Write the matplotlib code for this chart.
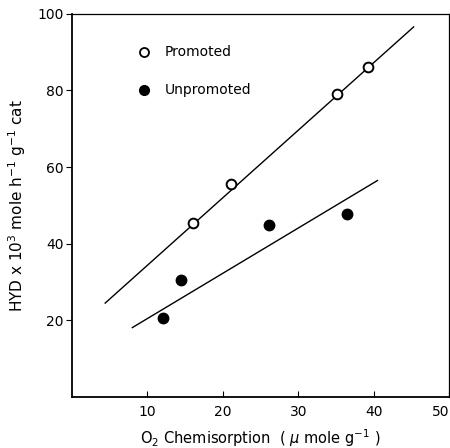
import matplotlib.pyplot as plt

promoted_x = [16.1, 21.1, 35.1, 39.3]
promoted_y = [45.3, 55.5, 79.2, 86.2]
unpromoted_x = [12.0, 14.5, 26.1, 36.4]
unpromoted_y = [20.5, 30.4, 44.8, 47.8]

# hand-drawn trend lines (end points)
promoted_fit_x = [4.4, 45.3]
promoted_fit_y = [24.5, 96.6]
unpromoted_fit_x = [8.0, 40.5]
unpromoted_fit_y = [18.1, 56.5]

x_ticks = [10, 20, 30, 40, 50]
y_ticks = [20, 40, 60, 80, 100]

fig = plt.figure(figsize=(4.5, 4.48), dpi=100)
ax = fig.add_axes([0.16, 0.114, 0.838, 0.855])

ax.plot(promoted_fit_x, promoted_fit_y, color="black", lw=1.0)
ax.plot(unpromoted_fit_x, unpromoted_fit_y, color="black", lw=1.0)
ax.plot(promoted_x, promoted_y, "o", ms=7, mfc="white", mec="black", mew=1.4)
ax.plot(unpromoted_x, unpromoted_y, "o", ms=7.5, mfc="black", mec="black")

# legend drawn inside the axes
ax.plot([9.6], [90], "o", ms=6.5, mfc="white", mec="black", mew=1.3)
ax.plot([9.6], [80], "o", ms=7, mfc="black", mec="black")
ax.text(12.3, 90, "Promoted", va="center", ha="left", fontsize=10)
ax.text(12.3, 80, "Unpromoted", va="center", ha="left", fontsize=10)

ax.set_xlim(0, 50)
ax.set_ylim(0, 100)
ax.set_xticks(x_ticks)
ax.set_yticks(y_ticks)
ax.set_xticklabels([str(t) for t in x_ticks])
ax.tick_params(axis="x", direction="in", length=4, labelsize=10, pad=6)
ax.tick_params(axis="y", direction="out", length=4, labelsize=10, pad=2)
# the last label sits at the figure edge, keep it inside
ax.get_xticklabels()[-1].set_horizontalalignment("right")
for s in ["left", "bottom"]:
    ax.spines[s].set_linewidth(1.3)
for s in ["top", "right"]:
    ax.spines[s].set_linewidth(0.9)

ax.set_xlabel(r"O$_2$ Chemisorption  ( $\mu$ mole g$^{-1}$ )", fontsize=10.5, labelpad=6)
ax.set_ylabel(r"HYD x 10$^3$ mole h$^{-1}$ g$^{-1}$ cat", fontsize=11, labelpad=7)

fig.savefig("out.png", dpi=100)
